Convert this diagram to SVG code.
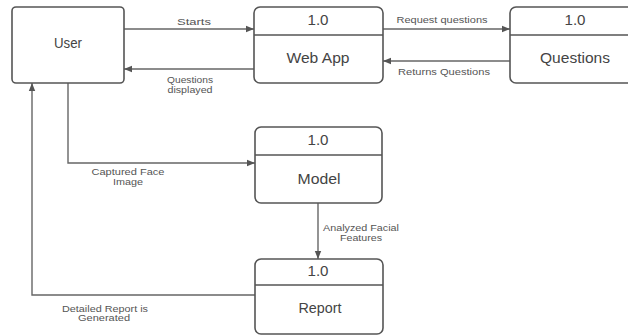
<svg xmlns="http://www.w3.org/2000/svg" width="628" height="336" viewBox="0 0 628 336">
<style>
.box{fill:#fff;stroke:#555;stroke-width:1.6}
.div{stroke:#555;stroke-width:1.3}
.t{font-family:"Liberation Sans",Arial,sans-serif;font-size:14px;fill:#444;text-anchor:middle}
.l{font-family:"Liberation Sans",Arial,sans-serif;font-size:9px;fill:#555;text-anchor:middle}
.c{fill:none;stroke:#666;stroke-width:1.4}
</style>
<defs>
<marker id="ah" viewBox="0 0 10 10" refX="10" refY="5" markerWidth="9" markerHeight="8" markerUnits="userSpaceOnUse" orient="auto">
<path d="M0,1 L10,5 L0,9 Z" fill="#555"/>
</marker>
</defs>
<rect width="628" height="336" fill="#fff"/>
<g id="connectors">
<path class="c" d="M124,29 H254" marker-end="url(#ah)"/>
<path class="c" d="M254,69 H124" marker-end="url(#ah)"/>
<path class="c" d="M383,29 H510" marker-end="url(#ah)"/>
<path class="c" d="M510,61 H383" marker-end="url(#ah)"/>
<path class="c" d="M68,83 V163 H255" marker-end="url(#ah)"/>
<path class="c" d="M318,203 V259" marker-end="url(#ah)"/>
<path class="c" d="M255,295 H32 V83" marker-end="url(#ah)"/>
<text class="l" x="194" y="25" textLength="34" lengthAdjust="spacingAndGlyphs">Starts</text>
<text class="l" x="190" y="83" textLength="46" lengthAdjust="spacingAndGlyphs">Questions</text>
<text class="l" x="190" y="93" textLength="45" lengthAdjust="spacingAndGlyphs">displayed</text>
<text class="l" x="442" y="23" textLength="91" lengthAdjust="spacingAndGlyphs">Request questions</text>
<text class="l" x="444" y="75" textLength="92" lengthAdjust="spacingAndGlyphs">Returns Questions</text>
<text class="l" x="128" y="175" textLength="73" lengthAdjust="spacingAndGlyphs">Captured Face</text>
<text class="l" x="128" y="185" textLength="30" lengthAdjust="spacingAndGlyphs">Image</text>
<text class="l" x="361" y="231" textLength="76" lengthAdjust="spacingAndGlyphs">Analyzed Facial</text>
<text class="l" x="361" y="241" textLength="42" lengthAdjust="spacingAndGlyphs">Features</text>
<text class="l" x="105" y="312" textLength="86" lengthAdjust="spacingAndGlyphs">Detailed Report is</text>
<text class="l" x="104" y="321" textLength="52" lengthAdjust="spacingAndGlyphs">Generated</text>
</g>
<g id="user">
<rect class="box" x="12" y="7" width="112" height="76" rx="4"/>
<text class="t" x="68" y="48" textLength="28" lengthAdjust="spacingAndGlyphs">User</text>
</g>
<g id="webapp">
<rect class="box" x="254" y="7" width="129" height="76" rx="6"/>
<line class="div" x1="254" y1="35" x2="383" y2="35"/>
<text class="t" x="318" y="25" textLength="21" lengthAdjust="spacingAndGlyphs">1.0</text>
<text class="t" x="318" y="63" textLength="63" lengthAdjust="spacingAndGlyphs">Web App</text>
</g>
<g id="questions">
<rect class="box" x="510" y="7" width="130" height="76" rx="6"/>
<line class="div" x1="510" y1="35" x2="640" y2="35"/>
<text class="t" x="575" y="25" textLength="21" lengthAdjust="spacingAndGlyphs">1.0</text>
<text class="t" x="575" y="63" textLength="70" lengthAdjust="spacingAndGlyphs">Questions</text>
</g>
<g id="model">
<rect class="box" x="255" y="127" width="127" height="76" rx="6"/>
<line class="div" x1="255" y1="155" x2="382" y2="155"/>
<text class="t" x="318" y="145" textLength="21" lengthAdjust="spacingAndGlyphs">1.0</text>
<text class="t" x="319" y="184" textLength="43" lengthAdjust="spacingAndGlyphs">Model</text>
</g>
<g id="report">
<rect class="box" x="255" y="259" width="128" height="75" rx="6"/>
<line class="div" x1="255" y1="285" x2="383" y2="285"/>
<text class="t" x="318" y="276" textLength="21" lengthAdjust="spacingAndGlyphs">1.0</text>
<text class="t" x="320" y="313" textLength="43" lengthAdjust="spacingAndGlyphs">Report</text>
</g>
</svg>
